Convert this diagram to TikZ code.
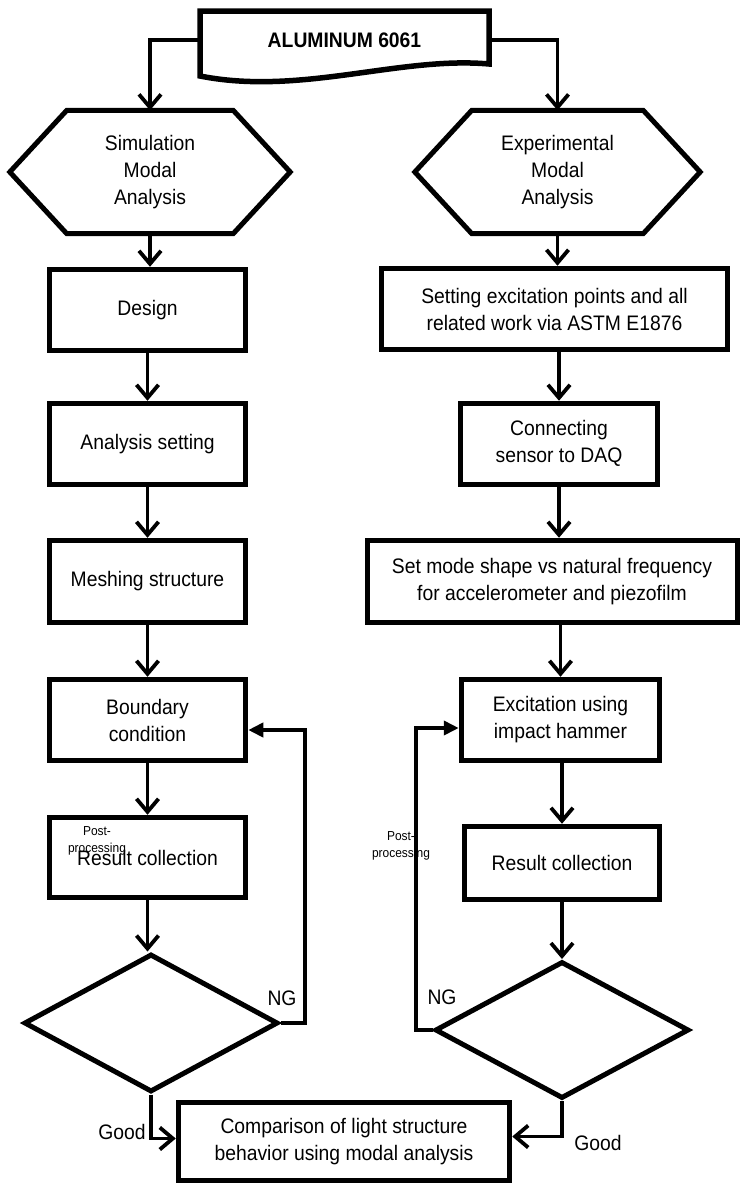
\documentclass[tikz,border=0pt]{standalone}
\usepackage{fontspec}
\setmainfont{Liberation Sans}[FakeStretch=0.92]
\usetikzlibrary{arrows.meta,shapes.geometric,calc}
\newcommand\mainfs{\fontsize{21}{27}\selectfont}
\newcommand\smallfs{\fontsize{13}{17}\selectfont}
\tikzset{
  box/.style={draw, line width=5pt, inner sep=0pt, align=center, font=\mainfs},
  hexnode/.style={inner sep=0pt, align=center, font=\mainfs},
  hexline/.style={line width=5pt, line join=miter},
  decision/.style={draw, diamond, line width=5pt, inner sep=0pt},
  conn/.style={line width=3.8pt, -{Straight Barb[length=13pt,width=22pt]}},
  back/.style={line width=4pt, -{Triangle[length=15pt,width=14pt]}},
  lbl/.style={inner sep=0pt, font=\mainfs},
  small/.style={inner sep=0pt, align=center, font=\smallfs}
}
\begin{document}
\begin{tikzpicture}[x=1pt, y=-1pt]
\useasboundingbox (0,0) rectangle (739,1186);

% banner
\draw[line width=5.5pt, line join=miter] (200,11) -- (489,11) -- (489,64)
  .. controls (400,56) and (300,96) .. (200,76) -- cycle;
\node[font=\bfseries\mainfs, minimum width=289pt, minimum height=50pt, inner sep=0pt] (alu) at (344.5,40) {ALUMINUM 6061};

% hexagons
\node[hexnode, minimum width=280pt, minimum height=123pt] (simhex) at (150,172) {Simulation\\Modal\\Analysis};
\draw[hexline] (simhex.west) -- ([xshift=57pt]simhex.north west) -- ([xshift=-57pt]simhex.north east)
  -- (simhex.east) -- ([xshift=-57pt]simhex.south east) -- ([xshift=57pt]simhex.south west) -- cycle;
\node[hexnode, minimum width=285pt, minimum height=123pt] (exphex) at (557.5,172) {Experimental\\Modal\\Analysis};
\draw[hexline] (exphex.west) -- ([xshift=57pt]exphex.north west) -- ([xshift=-57pt]exphex.north east)
  -- (exphex.east) -- ([xshift=-57pt]exphex.south east) -- ([xshift=57pt]exphex.south west) -- cycle;

% left column
\node[box, minimum width=196.5pt, minimum height=81.5pt] (design) at (147.5,310) {Design};
\node[box, minimum width=196.5pt, minimum height=81.5pt] (anset) at (147.5,444) {Analysis setting};
\node[box, minimum width=196.5pt, minimum height=82.5pt] (mesh) at (147.5,581.5) {Meshing structure};
\node[box, minimum width=196.5pt, minimum height=81.5pt] (bound) at (147.5,720) {Boundary\\condition};
\node[box, minimum width=196.5pt, minimum height=80.5pt] (resL) at (147.5,857.5) {\raisebox{-3pt}{Result collection}};
\node[decision, minimum width=254pt, minimum height=138pt] (LD) at (151,1023) {};

% right column
\node[box, minimum width=346.5pt, minimum height=81.5pt] (setex) at (554.5,309) {Setting excitation points and all\\related work via ASTM E1876};
\node[box, minimum width=197.5pt, minimum height=81.5pt] (daq) at (559,444) {\raisebox{2pt}{\begin{tabular}{@{}c@{}}Connecting\\sensor to DAQ\end{tabular}}};
\node[box, minimum width=370pt, minimum height=82.5pt] (mode) at (552,581.5) {Set mode shape vs natural frequency\\for accelerometer and piezofilm};
\node[box, minimum width=198.5pt, minimum height=81.5pt] (exc) at (560.5,720) {Excitation using\\impact hammer};
\node[box, minimum width=195.5pt, minimum height=73.5pt] (resR) at (562,863) {Result collection};
\node[decision, minimum width=254pt, minimum height=137pt] (RD) at (562,1030) {};

% final box
\node[box, minimum width=331.5pt, minimum height=78.5pt] (comp) at (344,1141.5) {Comparison of light structure\\behavior using modal analysis};

% connectors from banner
\draw[conn] (alu.west) -| (simhex.north);
\draw[conn] (alu.east) -| (exphex.north);

% left chain
\draw[conn] (simhex.south) -- (simhex.south |- design.north);
\draw[conn] (design.south) -- (design.south |- anset.north);
\draw[conn] (anset.south) -- (anset.south |- mesh.north);
\draw[conn] (mesh.south) -- (mesh.south |- bound.north);
\draw[conn] (bound.south) -- (bound.south |- resL.north);
\draw[conn] (resL.south) -- (resL.south |- LD.north);

% right chain
\draw[conn] (exphex.south) -- (exphex.south |- setex.north);
\draw[conn] (daq.north |- setex.south) -- (daq.north);
\draw[conn] (daq.south) -- (daq.south |- mode.north);
\draw[conn] (exc.north |- mode.south) -- (exc.north);
\draw[conn] (resR.north |- exc.south) -- (resR.north);
\draw[conn] (resR.south) -- (RD.north);

% loops
\draw[back] (LD.east) -- ++(24,0) |- ([yshift=-10pt]bound.east);
\draw[back] (RD.west) -- ++(-17,0) |- ([yshift=-8pt]exc.west);

% good
\draw[conn] (LD.south) |- ([yshift=3pt]comp.west);
\draw[conn] (RD.south) |- ([yshift=5pt]comp.east);

% labels
\node[lbl] (ngL) at (282,998) {NG};
\node[lbl] (ngR) at (442,997) {NG};
\node[lbl] (goodL) at (122,1132) {Good};
\node[lbl] (goodR) at (598,1143) {Good};
\node[small] (ppL) at (97,841) {Post-\\processing};
\node[small] (ppR) at (401,846) {Post-\\processing};
\end{tikzpicture}
\end{document}
